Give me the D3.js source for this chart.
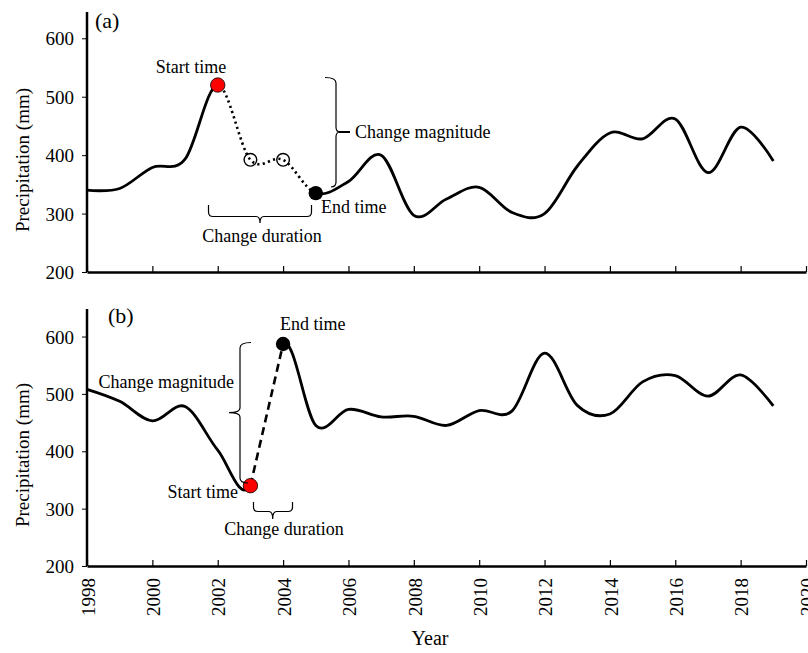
<!DOCTYPE html>
<html lang="en">
<head>
    <meta charset="UTF-8">
    <title>Precipitation change</title>
    <script src="https://d3js.org/d3.v7.min.js"></script>
    <style>
        body {
            margin: 0;
            background: #ffffff;
        }
        svg text {
            font-family: 'Liberation Serif', 'Times New Roman', serif;
            fill: #000;
        }
    </style>
</head>
<body>
    <svg id="chart" width="808" height="653"></svg>

    <script>
        // annual precipitation
        const years = [1998, 1999, 2000, 2001, 2002, 2003, 2004, 2005, 2006, 2007, 2008,
                       2009, 2010, 2011, 2012, 2013, 2014, 2015, 2016, 2017, 2018, 2019];
        const precipA = [340, 343, 379, 393, 520, 392, 392, 335, 355, 400, 297,
                         325, 345, 302, 300, 381, 438, 428, 462, 370, 448, 390];
        const precipB = [508, 487, 453, 478, 402, 340, 587, 445, 473, 460, 461,
                         445, 471, 470, 571, 480, 465, 521, 532, 496, 533, 479];

        const xTicks = [1998, 2000, 2002, 2004, 2006, 2008, 2010, 2012, 2014, 2016, 2018, 2020];
        const yTicks = [200, 300, 400, 500, 600];

        // change events: start/end years (a) and intermediate years
        const eventA = { start: 2002, end: 2005, mid: [2003, 2004] };
        const eventB = { start: 2003, end: 2004 };

        const svg = d3.select('#chart');
        const x = d3.scaleLinear().domain([1998, 2020]).range([87, 806]);

        const panels = [
            { id: 'a', values: precipA, yDomain: [200, 645], yRange: [272, 12], labelY: 160 },
            { id: 'b', values: precipB, yDomain: [200, 648], yRange: [566, 309], labelY: 455 }
        ];

        const seriesOf = vals => years.map((yr, i) => ({ year: yr, v: vals[i] }));

        function brace(g, pathD) {
            g.append('path')
                .attr('d', pathD)
                .attr('fill', 'none')
                .attr('stroke', '#000')
                .attr('stroke-width', 1.2);
        }

        panels.forEach(p => {
            const y = d3.scaleLinear().domain(p.yDomain).range(p.yRange);
            const g = svg.append('g');
            const data = seriesOf(p.values);
            const line = d3.line()
                .x(d => x(d.year))
                .y(d => y(d.v))
                .curve(d3.curveCardinal.tension(0));

            // axes
            const yAxis = d3.axisLeft(y).tickValues(yTicks).tickFormat(d3.format('d'))
                .tickSize(5).tickPadding(8);
            const yg = g.append('g').attr('transform', `translate(${x(1998)},0)`).call(yAxis);
            yg.select('.domain').attr('stroke-width', 2.5).attr('d', `M0,${p.yRange[0]}V${p.yRange[1]}`);
            yg.selectAll('.tick line').attr('stroke-width', 1);
            yg.selectAll('.tick text').attr('font-size', 19).attr('dy', '0.34em');

            const xAxis = d3.axisBottom(x).tickValues(xTicks).tickFormat(d3.format('d'))
                .tickSizeInner(-6).tickSizeOuter(0);
            const xg = g.append('g').attr('transform', `translate(0,${p.yRange[0]})`).call(xAxis);
            xg.select('.domain').attr('stroke-width', 2.5);
            xg.selectAll('.tick line').attr('stroke-width', 1.2);
            if (p.id === 'a') {
                xg.selectAll('.tick text').remove();
            } else {
                xg.selectAll('.tick text')
                    .attr('font-size', 19)
                    .attr('text-anchor', 'end')
                    .attr('transform', 'rotate(-90)')
                    .attr('x', -12)
                    .attr('y', 0)
                    .attr('dy', '0.38em');
            }

            g.append('text')
                .attr('transform', `translate(29,${p.labelY}) rotate(-90)`)
                .attr('text-anchor', 'middle')
                .attr('font-size', 19)
                .text('Precipitation (mm)');

            // clip regions split the smoothed curve into solid and broken parts
            const ev = p.id === 'a' ? eventA : eventB;
            const top = p.yRange[1] - 20, h = p.yRange[0] - top + 10;
            const defs = svg.append('defs');
            defs.append('clipPath').attr('id', `solid-${p.id}`)
                .selectAll('rect')
                .data([[x(1998) - 5, x(ev.start)], [x(ev.end), 808]])
                .join('rect')
                .attr('x', d => d[0]).attr('width', d => d[1] - d[0])
                .attr('y', top).attr('height', h);
            defs.append('clipPath').attr('id', `broken-${p.id}`)
                .append('rect')
                .attr('x', x(ev.start)).attr('width', x(ev.end) - x(ev.start))
                .attr('y', top).attr('height', h);

            g.append('path')
                .datum(data)
                .attr('d', line)
                .attr('clip-path', `url(#solid-${p.id})`)
                .attr('fill', 'none')
                .attr('stroke', '#000')
                .attr('stroke-width', 2.8);

            const vAt = yr => p.values[years.indexOf(yr)];

            if (p.id === 'a') {
                g.append('path')
                    .datum(data)
                    .attr('d', line)
                    .attr('clip-path', `url(#broken-${p.id})`)
                    .attr('fill', 'none')
                    .attr('stroke', '#000')
                    .attr('stroke-width', 2.6)
                    .attr('stroke-dasharray', '2.2,3.3');

                g.selectAll('circle.mid')
                    .data(ev.mid)
                    .join('circle')
                    .attr('cx', d => x(d)).attr('cy', d => y(vAt(d)))
                    .attr('r', 6.3)
                    .attr('fill', 'none')
                    .attr('stroke', '#000')
                    .attr('stroke-width', 1.4);
            } else {
                g.append('path')
                    .datum([ev.start, ev.end])
                    .attr('d', d3.line().x(d => x(d)).y(d => y(vAt(d))))
                    .attr('fill', 'none')
                    .attr('stroke', '#000')
                    .attr('stroke-width', 2.6)
                    .attr('stroke-dasharray', '8,5');
            }

            g.append('circle')
                .attr('cx', x(ev.start)).attr('cy', y(vAt(ev.start)))
                .attr('r', 7.2)
                .attr('fill', '#ff0000')
                .attr('stroke', '#000')
                .attr('stroke-width', 0.8);
            g.append('circle')
                .attr('cx', x(ev.end)).attr('cy', y(vAt(ev.end)))
                .attr('r', 7.2)
                .attr('fill', '#000');

            p.g = g;
        });

        // annotations, panel (a)
        const ga = panels[0].g;
        ga.append('text').attr('x', 95).attr('y', 28).attr('font-size', 22).text('(a)');
        ga.append('text').attr('x', 191).attr('y', 73).attr('font-size', 18)
            .attr('text-anchor', 'middle').text('Start time');
        ga.append('text').attr('x', 321).attr('y', 213).attr('font-size', 18).text('End time');
        ga.append('text').attr('x', 355).attr('y', 138).attr('font-size', 18).text('Change magnitude');
        ga.append('text').attr('x', 262).attr('y', 242).attr('font-size', 18)
            .attr('text-anchor', 'middle').text('Change duration');
        brace(ga, 'M325,77.5 Q336,77.5 336,83 L336,127 Q336,132 340,132 Q336,132 336,137 L336,182 Q336,187 331,187');
        ga.append('path').attr('d', 'M339,132 H350').attr('stroke', '#000').attr('stroke-width', 2);
        brace(ga, 'M208.5,205 L208.5,212 Q208.5,216.5 213,216.5 L256,216.5 Q260,216.5 260,223 Q260,216.5 264,216.5 L307,216.5 Q311.5,216.5 311.5,212 L311.5,205');

        // annotations, panel (b)
        const gb = panels[1].g;
        gb.append('text').attr('x', 108).attr('y', 323).attr('font-size', 22).text('(b)');
        gb.append('text').attr('x', 280).attr('y', 330).attr('font-size', 18).text('End time');
        gb.append('text').attr('x', 234).attr('y', 388).attr('font-size', 18)
            .attr('text-anchor', 'end').text('Change magnitude');
        gb.append('text').attr('x', 238).attr('y', 498).attr('font-size', 18)
            .attr('text-anchor', 'end').text('Start time');
        gb.append('text').attr('x', 284).attr('y', 535).attr('font-size', 18)
            .attr('text-anchor', 'middle').text('Change duration');
        brace(gb, 'M251,342.5 Q240,342.5 240,348 L240,408 Q240,412.7 229,412.7 Q240,412.7 240,417 L240,478 Q240,483 248,483');
        brace(gb, 'M253.5,502 L253.5,507 Q253.5,511.5 258,511.5 L269,511.5 Q272.7,511.5 272.7,519 Q272.7,511.5 276.5,511.5 L288,511.5 Q292.5,511.5 292.5,507 L292.5,502');

        svg.append('text')
            .attr('x', 430).attr('y', 645)
            .attr('text-anchor', 'middle')
            .attr('font-size', 20)
            .text('Year');
    </script>
</body>
</html>
